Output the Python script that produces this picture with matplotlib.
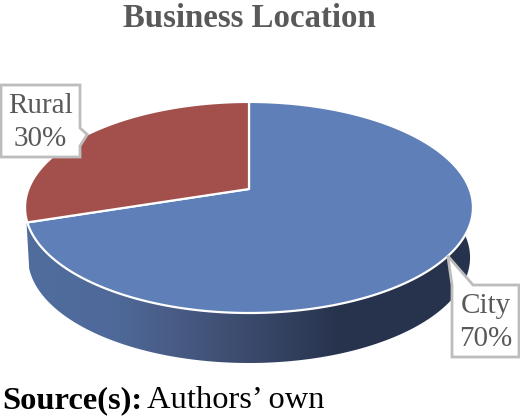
import numpy as np
import matplotlib
matplotlib.use("Agg")
import matplotlib.pyplot as plt
from matplotlib.colors import LinearSegmentedColormap
from matplotlib.patches import Polygon

title = "Business Location"
categories = ["City", "Rural"]
shares = [70, 30]
colors = ["#5f7fb9", "#a34f4c"]

fig = plt.figure(figsize=(5.2, 4.19), dpi=100)
ax = fig.add_axes([0, 0, 1, 1])
ax.set_xlim(0, 520)
ax.set_ylim(419, 0)
ax.axis("off")

CX, CY, A, B, K, DEPTH = 249.0, 189.0, 102.3, 220.5, 0.175, 50.0


def project(theta, scale=1.0, drop=0.0):
    """Clockwise angle from 12 o'clock to pixel position, with perspective."""
    u, v = np.sin(theta), np.cos(theta)
    d = 1 + K * v
    return CX + scale * B * u / d, CY - A * v / d + drop


# side wall: one horizontal gradient clipped to the visible front edge
wall_cmap = LinearSegmentedColormap.from_list(
    "wall", [(0, "#506d9d"), (0.19, "#4f6a9a"), (0.35, "#475a82"), (0.5, "#3b4a6c"),
             (0.7, "#28344e"), (1, "#27334c")])
ths = np.linspace(np.deg2rad(70), np.deg2rad(254), 400)
x0, y0 = project(ths)
x1, y1 = project(ths, 0.987, DEPTH)
wall = Polygon(np.c_[np.r_[x0, x1[::-1]], np.r_[y0, y1[::-1]]], closed=True, fc="none", ec="none",
               transform=ax.transData)
ax.add_patch(wall)
grad = ax.imshow(np.linspace(0, 1, 256).reshape(1, -1), cmap=wall_cmap, aspect="auto",
                 extent=(25, 472, 419, 0), interpolation="bilinear", zorder=1)
grad.set_clip_path(wall)
ax.set_xlim(0, 520)
ax.set_ylim(419, 0)

# top face: wedges from the shares (clockwise from 12 o'clock)
fractions = np.array(shares) / sum(shares)
ends = np.cumsum(fractions) * 2 * np.pi
starts = np.r_[0, ends[:-1]]
for s, e, col in zip(starts, ends, colors):
    x, y = project(np.linspace(s, e, 300))
    ax.add_patch(Polygon(np.c_[np.r_[CX, x], np.r_[CY, y]], closed=True, fc=col,
                         ec="white", lw=1.6, joinstyle="round", zorder=2))


def callout(text, tip, box, base):
    bx0, by0, bx1, by1 = box
    if base[0] == "right":
        pts = [(bx0, by0), (bx1, by0), (bx1, base[1]), tip, (bx1, base[2]), (bx1, by1), (bx0, by1)]
    else:
        pts = [(bx0, by0), (base[1], by0), tip, (base[2], by0), (bx1, by0), (bx1, by1), (bx0, by1)]
    ax.add_patch(Polygon(pts, closed=True, fc="white", ec="#bdbdbd", lw=2.0, zorder=3))
    ax.text((bx0 + bx1) / 2, (by0 + by1) / 2 + 1.5, text, ha="center", va="center",
            fontsize=21, color="#595959", family="Liberation Serif",
            linespacing=1.36, zorder=4)


mids = (starts + ends) / 2
label_boxes = {"City": (452, 285, 519, 357), "Rural": (1, 85, 80, 157)}
label_bases = {"City": ("top", 452, 473), "Rural": ("right", 128, 146)}
for cat, share, mid in zip(categories, shares, mids):
    tip = tuple(float(c) for c in project(mid))
    callout(f"{cat}\n{share}%", tip, label_boxes[cat], label_bases[cat])

ax.text(249.5, 27, title, ha="center", va="baseline", fontsize=23.7, fontweight="bold",
        color="#595959", family="Liberation Serif")
ax.text(2, 408, "Source(s):", ha="left", va="baseline", fontsize=23.4, fontweight="bold",
        color="black", family="Liberation Serif")
ax.text(147, 408, "Authors\u2019 own", ha="left", va="baseline", fontsize=23.4,
        color="black", family="Liberation Serif")

fig.savefig("out.png", dpi=100)
